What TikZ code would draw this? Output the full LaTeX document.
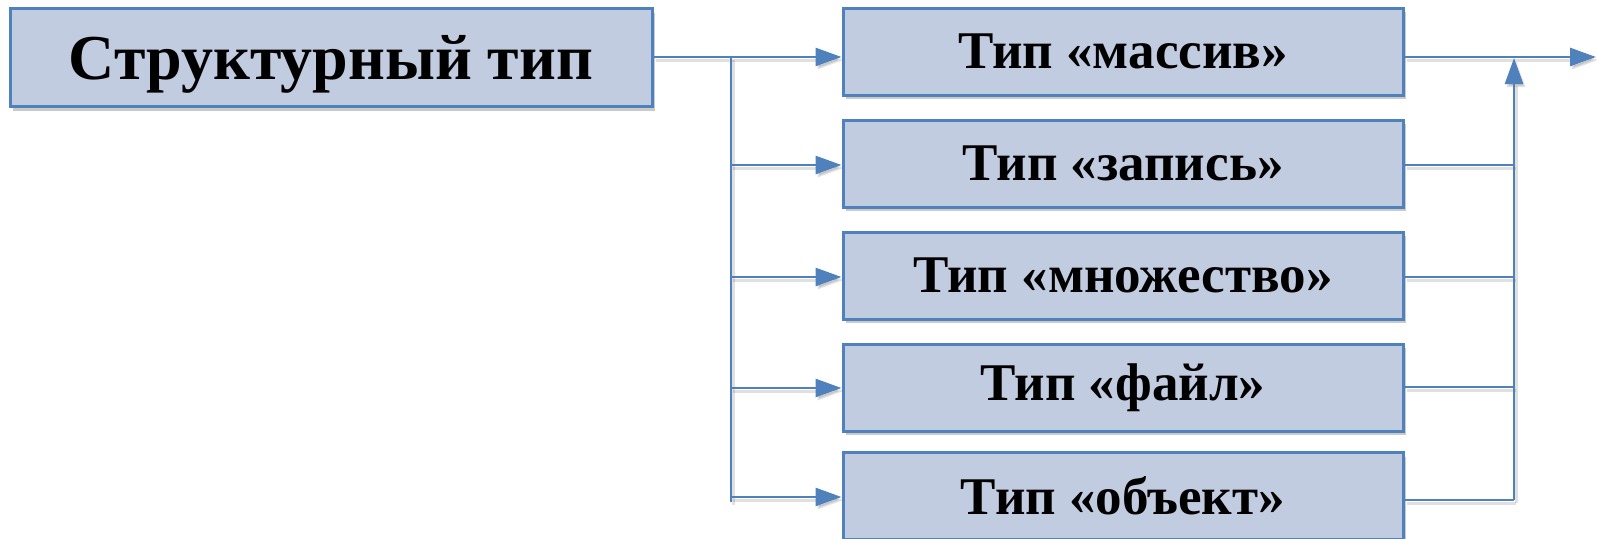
\documentclass[tikz,border=0pt]{standalone}
\usepackage{fontspec}
\setmainfont{Liberation Serif}
\usetikzlibrary{arrows.meta,shadows}
\definecolor{boxfill}{HTML}{C2CCE0}
\definecolor{boxline}{HTML}{4F81BD}
\tikzset{
  mainbox/.style={draw=boxline, line width=3pt, fill=boxfill, minimum width=642pt, minimum height=98pt, inner sep=0pt,
    drop shadow={shadow xshift=3pt, shadow yshift=-4pt, opacity=0.35, fill=black!60},
    text depth=0pt, font=\fontsize{64}{70}\selectfont\bfseries},
  typebox/.style={draw=boxline, line width=3pt, fill=boxfill, minimum width=560pt, minimum height=87pt, inner sep=0pt,
    drop shadow={shadow xshift=3pt, shadow yshift=-4pt, opacity=0.35, fill=black!60},
    font=\fontsize{53}{58}\selectfont\bfseries},
  conn/.style={draw=boxline, line width=2.8pt,
    preaction={draw=black, opacity=0.12, line width=3pt, transform canvas={shift={(2pt,-3pt)}}}},
  arr/.style={conn, -{Triangle[length=26pt,width=18pt]}},
}
\begin{document}
\begin{tikzpicture}[x=1pt,y=-1pt]
\useasboundingbox (0,0) rectangle (1597,538);
\node[mainbox] (main) at (331,57.5) {Структурный тип};
\node[typebox] (b1) at (1123,51.5) {Тип «массив»};
\node[typebox] (b2) at (1123,163.5) {Тип «запись»};
\node[typebox] (b3) at (1123,275.5) {Тип «множество»};
\node[typebox] (b4) at (1123,387.5) {Тип «файл»};
\node[typebox] (b5) at (1123,496) {Тип «объект»};
\coordinate (a1) at (731,57);
\coordinate (a2) at (731,165);
\coordinate (a3) at (731,277);
\coordinate (a4) at (731,388);
\coordinate (a5) at (731,497);
\coordinate (lbot) at (731,502);
\coordinate (r2) at (1514,165);
\coordinate (r3) at (1514,277);
\coordinate (r4) at (1514,387);
\coordinate (r5) at (1514,500);
\coordinate (join) at (1514,58);
\coordinate (out) at (1596,57);
\draw[conn] (main.east |- a1) -- (a1);
\draw[conn] (a1) -- (lbot);
\draw[arr] (a1) -- (b1.west |- a1);
\draw[arr] (a2) -- (b2.west |- a2);
\draw[arr] (a3) -- (b3.west |- a3);
\draw[arr] (a4) -- (b4.west |- a4);
\draw[arr] (a5) -- (b5.west |- a5);
\draw[arr] (b1.east |- a1) -- (out);
\draw[conn] (b2.east |- r2) -- (r2);
\draw[conn] (b3.east |- r3) -- (r3);
\draw[conn] (b4.east |- r4) -- (r4);
\draw[conn] (b5.east |- r5) -- (r5);
\draw[arr] (r5) -- (join);
\end{tikzpicture}
\end{document}
